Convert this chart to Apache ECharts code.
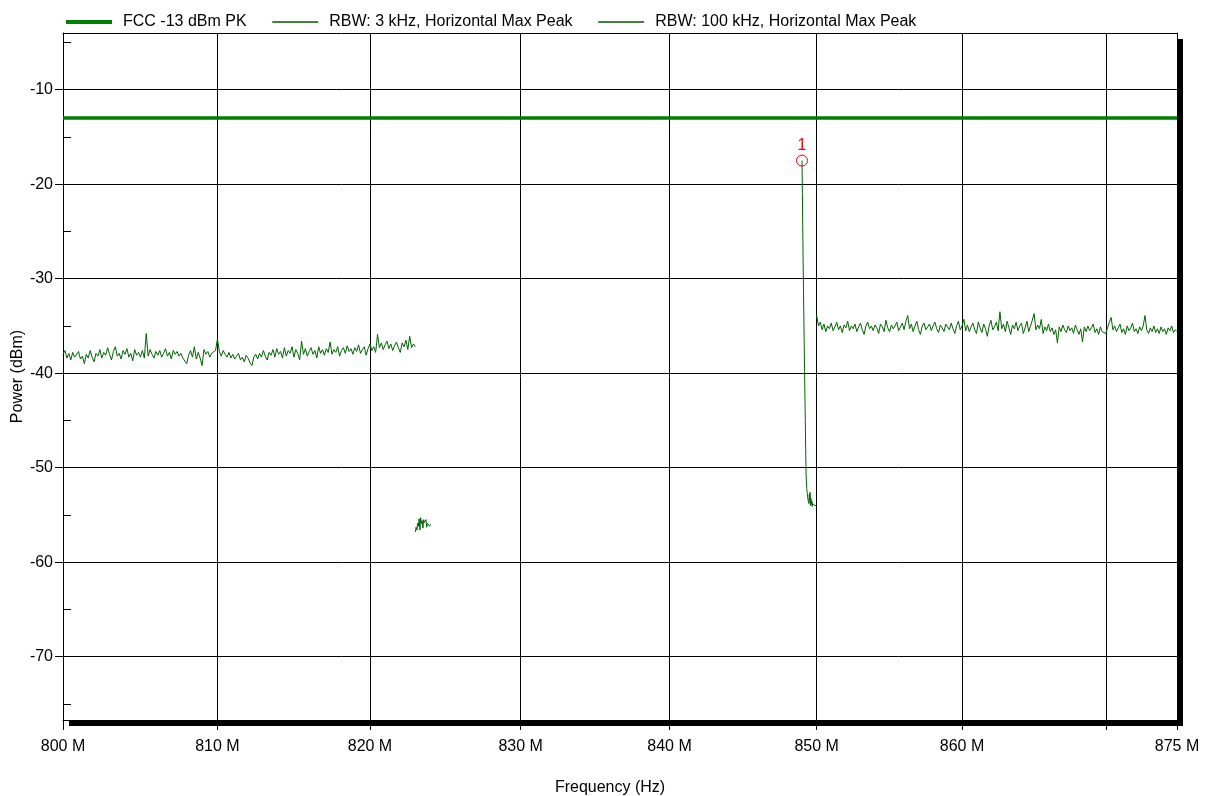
<!DOCTYPE html>
<html>
<head>
<meta charset="utf-8">
<script src="https://cdn.jsdelivr.net/npm/echarts@6/dist/echarts.min.js"></script>
<style>
html,body{margin:0;padding:0;background:#fff;}
#chart{width:1207px;height:796px;}
</style>
</head>
<body>
<div id="chart"></div>
<script>
// ---- axis ticks (MHz / dBm) ----
const freqTicksMHz = [800, 810, 820, 830, 840, 850, 860, 870, 875];
const freqLabelsMHz = [800, 810, 820, 830, 840, 850, 860, 875];
const powerTicks = [-70, -60, -50, -40, -30, -20, -10];
const powerMinorTicks = [-75, -65, -55, -45, -35, -25, -15, -5];
const freqRangeMHz = [800, 875];
const powerRange = [-76.7, -4];

// ---- FCC limit ----
const limitFreqMHz = [800, 875];
const limitPower = [-13, -13];

// ---- RBW 100 kHz trace, 800..823 MHz, 0.125 MHz sweep step ----
const low100StartMHz = 800, low100StepMHz = 0.125;
const low100 = [
-38.0,-37.6,-38.4,-37.9,-38.6,-37.8,-38.3,-38.1,-37.7,-38.5,
-38.2,-39.0,-38.0,-38.4,-37.6,-38.3,-38.8,-37.9,-38.2,-37.5,
-38.4,-37.8,-38.1,-37.3,-38.0,-38.6,-37.7,-37.2,-38.2,-37.9,
-38.5,-37.6,-38.0,-37.4,-38.3,-37.9,-38.7,-37.5,-38.1,-37.8,
-38.3,-37.6,-38.4,-35.8,-38.2,-37.5,-38.0,-38.4,-37.7,-38.1,
-37.6,-38.3,-37.9,-37.4,-38.2,-37.8,-38.5,-37.6,-38.0,-37.7,
-38.2,-37.9,-38.4,-38.6,-39.0,-38.1,-37.6,-38.3,-37.2,-38.5,
-37.8,-38.4,-39.2,-37.5,-38.0,-37.7,-38.3,-37.9,-38.1,-37.6,
-36.4,-37.7,-38.2,-37.6,-38.0,-38.3,-37.8,-38.4,-38.0,-38.5,
-38.2,-37.9,-38.6,-38.3,-38.8,-38.1,-38.4,-38.9,-39.2,-38.3,
-38.0,-38.5,-37.9,-38.3,-37.6,-38.2,-38.6,-37.8,-38.1,-37.5,
-38.3,-37.4,-38.0,-37.7,-38.4,-37.3,-38.2,-37.6,-37.9,-37.2,
-38.3,-37.5,-37.9,-38.6,-36.6,-38.0,-37.4,-38.2,-37.7,-37.3,
-38.0,-37.6,-38.4,-37.2,-37.9,-37.5,-38.1,-37.4,-37.8,-36.7,
-38.0,-37.5,-37.8,-37.2,-38.2,-37.6,-37.3,-37.9,-37.1,-37.7,
-37.4,-38.0,-37.3,-37.7,-37.0,-37.9,-37.5,-37.2,-38.1,-37.4,
-36.9,-37.6,-37.2,-37.8,-35.9,-37.3,-36.8,-37.5,-37.0,-36.6,
-37.4,-36.9,-37.6,-37.1,-36.7,-37.3,-37.8,-36.8,-37.2,-36.5,
-37.5,-36.1,-37.3,-36.9,-37.2
];

// ---- RBW 100 kHz trace, 850..875 MHz ----
const high100StartMHz = 850, high100StepMHz = 0.125;
const high100 = [
-33.9,-35.0,-34.6,-35.4,-34.8,-35.6,-35.0,-35.3,-34.7,-35.5,
-35.1,-34.6,-35.4,-35.0,-35.7,-34.9,-35.2,-34.5,-35.5,-35.0,
-35.3,-34.8,-35.6,-35.1,-34.7,-35.4,-35.9,-35.0,-34.6,-35.3,
-35.0,-35.5,-34.9,-35.2,-35.8,-34.8,-35.1,-35.6,-34.4,-35.2,
-35.6,-34.9,-35.3,-35.0,-34.6,-35.5,-35.1,-34.7,-35.4,-34.5,
-33.9,-35.3,-34.8,-35.6,-35.0,-34.5,-35.4,-35.9,-35.0,-34.7,
-35.4,-35.1,-34.8,-35.5,-35.0,-34.6,-35.3,-35.7,-34.9,-35.2,
-35.6,-34.8,-35.1,-35.4,-34.7,-35.3,-35.8,-35.0,-34.5,-35.4,
-35.0,-34.3,-35.5,-34.9,-35.6,-35.1,-34.7,-35.4,-35.8,-34.6,
-35.2,-35.7,-34.8,-35.3,-36.1,-35.0,-34.4,-35.4,-35.1,-34.6,
-35.5,-33.5,-35.3,-34.8,-35.6,-34.5,-35.2,-35.9,-34.9,-35.3,
-34.6,-35.5,-35.0,-34.7,-35.8,-35.2,-34.5,-35.6,-35.0,-34.4,
-33.7,-35.4,-34.9,-35.3,-34.3,-35.8,-35.1,-35.5,-34.8,-35.6,
-35.2,-35.9,-35.4,-36.8,-35.1,-35.6,-34.9,-35.4,-35.7,-35.0,
-35.5,-35.2,-35.8,-34.9,-35.4,-35.9,-35.3,-36.7,-35.1,-35.6,
-35.0,-35.5,-35.2,-34.8,-35.7,-35.3,-35.9,-35.1,-35.6,-35.4,
-35.8,-35.2,-34.6,-34.1,-35.4,-35.0,-35.6,-35.2,-34.8,-35.7,
-35.3,-35.9,-35.0,-35.5,-35.2,-34.7,-35.6,-35.3,-35.8,-35.1,
-35.5,-35.0,-33.9,-35.4,-35.8,-35.2,-35.6,-35.0,-35.7,-35.3,
-35.8,-35.1,-35.6,-35.3,-35.9,-35.2,-35.5,-35.0,-35.7,-35.4,
-35.6
];

// ---- RBW 3 kHz trace, 823..824 MHz ----
const low3StartMHz = 823, low3StepMHz = 0.05;
const low3 = [
-56.8,-56.3,-56.6,-55.9,-56.2,-55.4,-56.6,-55.3,-55.9,-55.6,
-56.4,-55.5,-55.8,-56.0,-55.5,-56.3,-55.9,-56.1,-55.7,-56.2,-56.0
];

// ---- RBW 3 kHz trace, 849..850 MHz ----
const high3StartMHz = 849, high3StepMHz = 0.025;
const high3 = [
-17.5,-21.0,-24.5,-28.0,-31.0,-34.0,-37.0,-39.8,-42.5,-45.0,
-48.0,-50.5,-51.5,-52.2,-52.6,-53.0,-53.2,-53.5,-53.4,-53.8,
-52.8,-53.5,-52.6,-54.0,-53.2,-53.9,-54.0,-53.5,-54.1,-53.8,
-54.0,-53.6,-54.0,-54.0,-53.8,-54.0,-54.0,-53.9,-54.0,-54.1,-54.0
];

// ---- marker 1 ----
const markerFreqMHz = 849;
const markerPower = -17.5;

const MHZ = 1e6;
function sweep(startMHz, stepMHz, values) {
  return values.map((v, i) => [(startMHz + i * stepMHz) * MHZ, v]);
}

const GREEN_LIMIT = '#008000';
const GREEN_TRACE = '#006400';
const FONT = '"Liberation Sans", Arial, sans-serif';

const name100 = 'RBW: 100 kHz, Horizontal Max Peak';
const name3 = 'RBW: 3 kHz, Horizontal Max Peak';
const nameLimit = 'FCC -13 dBm PK';

const traceLine = { color: GREEN_TRACE, width: 1 };
const frameLine = { show: true, lineStyle: { color: '#000', width: 1 } };

const chart = echarts.init(document.getElementById('chart'), null, { renderer: 'canvas' });
chart.setOption({
  animation: false,
  textStyle: { fontFamily: FONT },
  legend: {
    data: [
      { name: nameLimit, lineStyle: { width: 4, color: GREEN_LIMIT, opacity: 1 } },
      { name: name3, lineStyle: { width: 1.3, color: '#005a00', opacity: 1 } },
      { name: name100, lineStyle: { width: 1.3, color: '#005a00', opacity: 1 } }
    ],
    left: 59, top: 9,
    itemWidth: 46, itemHeight: 13, itemGap: 25,
    itemStyle: { opacity: 0 },
    textStyle: { fontFamily: FONT, fontSize: 16, color: '#000', padding: [0, 0, 0, 6] }
  },
  grid: {
    show: true, left: 63, right: 30, top: 33, bottom: 76,
    outerBoundsMode: 'none',
    backgroundColor: '#fff', borderWidth: 0,
    shadowColor: '#000', shadowBlur: 0, shadowOffsetX: 6, shadowOffsetY: 6
  },
  xAxis: [{
    type: 'log', logBase: 10,
    min: freqRangeMHz[0] * MHZ, max: freqRangeMHz[1] * MHZ,
    name: 'Frequency (Hz)', nameLocation: 'middle', nameGap: 60,
    nameTextStyle: { fontFamily: FONT, fontSize: 16, color: '#000', padding: [0, 20, 0, 0] },
    axisLine: frameLine,
    axisTick: { show: true, length: 10, lineStyle: { color: '#000' }, customValues: freqTicksMHz.map(v => v * MHZ) },
    axisLabel: {
      customValues: freqLabelsMHz.map(v => v * MHZ),
      fontFamily: FONT, fontSize: 16, color: '#000', margin: 19,
      formatter: v => Math.round(v / MHZ) + ' M'
    },
    splitLine: { show: true, lineStyle: { color: '#000', width: 1 } },
    minorTick: { show: false }, minorSplitLine: { show: false }
  }, {
    type: 'log', logBase: 10, position: 'top',
    min: freqRangeMHz[0] * MHZ, max: freqRangeMHz[1] * MHZ,
    axisLine: frameLine, axisTick: { show: false }, axisLabel: { show: false }, splitLine: { show: false }
  }],
  yAxis: [{
    type: 'value', min: powerRange[0], max: powerRange[1],
    name: 'Power (dBm)', nameLocation: 'middle', nameGap: 37, nameRotate: 90,
    nameMoveOverlap: false,
    nameTextStyle: { fontFamily: FONT, fontSize: 16, color: '#000' },
    axisLine: frameLine,
    axisTick: { show: true, length: 8, lineStyle: { color: '#000' }, customValues: powerTicks },
    axisLabel: { customValues: powerTicks, fontFamily: FONT, fontSize: 16, color: '#000', margin: 10 },
    splitLine: { show: true, lineStyle: { color: '#000', width: 1 } }
  }, {
    type: 'value', min: powerRange[0], max: powerRange[1], position: 'left', offset: 0,
    axisLine: { show: false },
    axisTick: { show: true, inside: true, length: 8, lineStyle: { color: '#000' }, customValues: powerMinorTicks },
    axisLabel: { show: false },
    splitLine: { show: false }
  }, {
    type: 'value', min: powerRange[0], max: powerRange[1], position: 'right', offset: 0,
    axisLine: frameLine, axisTick: { show: false }, axisLabel: { show: false }, splitLine: { show: false }
  }],
  series: [{
    name: nameLimit, type: 'line', symbol: 'none', z: 3,
    color: GREEN_LIMIT,
    lineStyle: { color: GREEN_LIMIT, width: 3.5 },
    data: limitFreqMHz.map((f, i) => [f * MHZ, limitPower[i]])
  }, {
    name: name3, type: 'line', symbol: 'none', color: GREEN_TRACE, lineStyle: traceLine,
    data: sweep(high3StartMHz, high3StepMHz, high3),
    markPoint: {
      symbol: 'circle', symbolSize: 11,
      itemStyle: { color: 'rgba(0,0,0,0)', borderColor: '#ff0000', borderWidth: 1 },
      label: { show: true, position: 'top', distance: 1, formatter: '1', color: '#ff0000', fontSize: 16, fontFamily: FONT },
      data: [{ coord: [markerFreqMHz * MHZ, markerPower] }]
    }
  }, {
    name: name3, type: 'line', symbol: 'none', color: GREEN_TRACE, lineStyle: traceLine,
    data: sweep(low3StartMHz, low3StepMHz, low3)
  }, {
    name: name100, type: 'line', symbol: 'none', color: GREEN_TRACE, lineStyle: traceLine,
    data: sweep(low100StartMHz, low100StepMHz, low100)
  }, {
    name: name100, type: 'line', symbol: 'none', color: GREEN_TRACE, lineStyle: traceLine,
    data: sweep(high100StartMHz, high100StepMHz, high100)
  }]
});
</script>
</body>
</html>
